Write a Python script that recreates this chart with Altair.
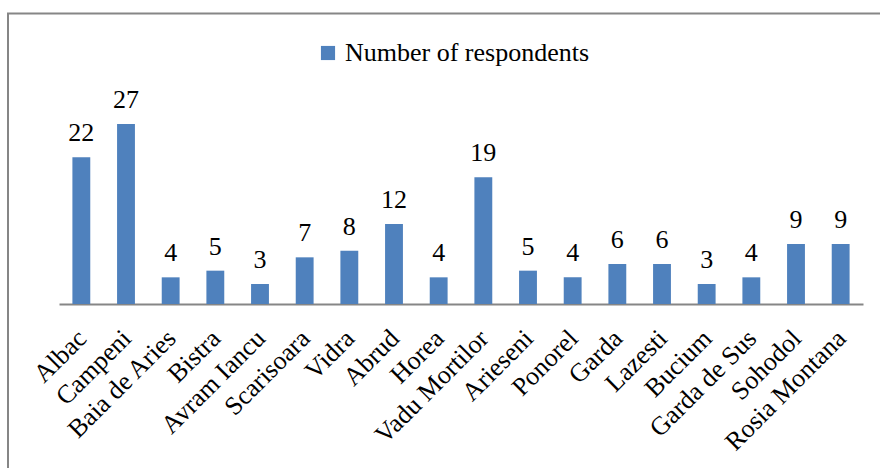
import altair as alt
import pandas as pd

places = ["Albac", "Campeni", "Baia de Aries", "Bistra", "Avram Iancu", "Scarisoara",
          "Vidra", "Abrud", "Horea", "Vadu Mortilor", "Arieseni", "Ponorel", "Garda",
          "Lazesti", "Bucium", "Garda de Sus", "Sohodol", "Rosia Montana"]
respondents = [22, 27, 4, 5, 3, 7, 8, 12, 4, 19, 5, 4, 6, 6, 3, 4, 9, 9]
series = ["Number of respondents"] * len(places)

df = pd.DataFrame({"place": places, "n": respondents, "series": series})

FONT = "'Liberation Serif', 'Times New Roman', 'DejaVu Serif', serif"
W, H = 804, 200
LEFT, TOP = 59, 104
RIGHT, BOTTOM = 880 - LEFT - W, 468 - TOP - H

x = alt.X("place:N", sort=places,
          scale=alt.Scale(paddingInner=0.6, paddingOuter=0.3),
          axis=alt.Axis(title=None, labelAngle=-45, labelAlign="right", labelBaseline="middle",
                        labelFont=FONT, labelFontSize=26, labelColor="black", labelPadding=30,
                        labelOffset=1, ticks=False, domainColor="#868686", domainWidth=2,
                        labelLimit=300, grid=False))
y = alt.Y("n:Q", scale=alt.Scale(domain=[0, 30]), axis=None)

bars = alt.Chart(df).mark_bar(color="#4f81bd").encode(
    x=x, y=y,
    color=alt.Color("series:N", scale=alt.Scale(range=["#4f81bd"]),
                    legend=alt.Legend(title=None, orient="none", legendX=256, legendY=-64,
                                      symbolType="square", symbolSize=200, symbolStrokeWidth=0,
                                      labelFont=FONT, labelFontSize=26, labelColor="black",
                                      labelOffset=4, labelLimit=400, symbolOffset=0)))

labels = alt.Chart(df).mark_text(font=FONT, fontSize=26, dy=-16, baseline="alphabetic", color="black").encode(
    x=alt.X("place:N", sort=places), y="n:Q", text="n:Q")

border = alt.Chart(pd.DataFrame({"a": [0]})).mark_rect(
    fill=None, stroke="#868686", strokeWidth=2).encode(
    x=alt.value(8 - LEFT), x2=alt.value(900 - LEFT),
    y=alt.value(13.5 - TOP), y2=alt.value(500 - TOP))

chart = alt.layer(border, bars, labels).properties(
    width=W, height=H,
    padding={"left": LEFT, "top": TOP, "right": RIGHT, "bottom": BOTTOM},
    autosize=alt.AutoSizeParams(type="none"),
).configure(background="white", font=FONT).configure_view(stroke=None)

chart.save("out.html", embed_options={"renderer": "svg", "actions": False})
